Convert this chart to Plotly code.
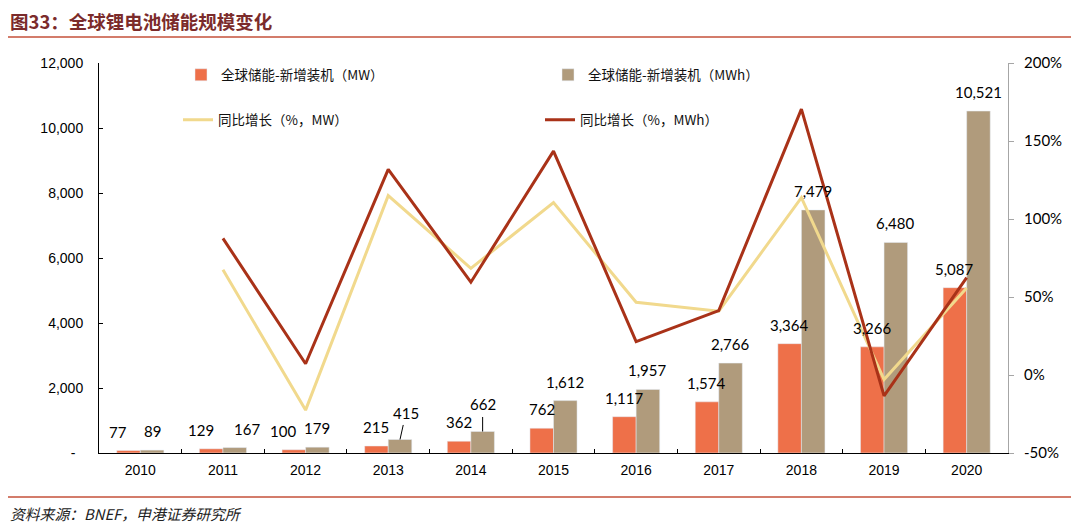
import plotly.graph_objects as go

# ---------------- data ----------------
years = ["2010", "2011", "2012", "2013", "2014", "2015", "2016", "2017", "2018", "2019", "2020"]
mw = [77, 129, 100, 215, 362, 762, 1117, 1574, 3364, 3266, 5087]
mwh = [89, 167, 179, 415, 662, 1612, 1957, 2766, 7479, 6480, 10521]
yoy_mw = [None, 67.5, -22.5, 115.0, 68.4, 110.5, 46.6, 40.9, 113.7, -2.9, 55.8]
yoy_mwh = [None, 87.6, 7.2, 131.8, 59.5, 143.5, 21.4, 41.3, 170.4, -13.4, 62.4]
left_tickvals = [0, 2000, 4000, 6000, 8000, 10000, 12000]
left_ticktext = ["-\u00a0\u00a0", "2,000", "4,000", "6,000", "8,000", "10,000", "12,000"]
right_tickvals = [-50, 0, 50, 100, 150, 200]
right_ticktext = ["-50%", "0%", "50%", "100%", "150%", "200%"]

name_mw = "全球储能-新增装机（MW）"
name_mwh = "全球储能-新增装机（MWh）"
name_yoy_mw = "同比增长（%，MW）"
name_yoy_mwh = "同比增长（%，MWh）"

# ---------------- layout constants ----------------
OFF = 8                      # page body margin
W, H = 1080 - OFF, 528 - OFF
ML, MR, MT, MB = 99 - OFF, 72, 63 - OFF, 75
PW = W - ML - MR
PH = H - MT - MB
BARGAP = 0.43
cat_px = PW / len(years)
bar_px = cat_px * (1 - BARGAP) / 2

C_MW = "#EE7049"
C_MWH = "#B09B7C"
C_LMW = "#F1D98D"
C_LMWH = "#A93218"
C_RULE = "#C4513A"
C_TITLE = "#7B2B2B"


def px_x(px):
    return (px - OFF - ML) / PW


def px_y(py):
    return (MT + PH - (py - OFF)) / PH


fig = go.Figure()
fig.add_trace(go.Bar(x=years, y=mw, name=name_mw, marker_color=C_MW,
                     legend="legend", showlegend=True))
fig.add_trace(go.Bar(x=years, y=mwh, name=name_mwh, marker_color=C_MWH,
                     legend="legend", showlegend=True))
fig.add_trace(go.Scatter(x=years, y=yoy_mw, name=name_yoy_mw, mode="lines",
                         line=dict(color=C_LMW, width=3), yaxis="y2",
                         legend="legend2"))
fig.add_trace(go.Scatter(x=years, y=yoy_mwh, name=name_yoy_mwh, mode="lines",
                         line=dict(color=C_LMWH, width=3), yaxis="y2",
                         legend="legend2"))

# ---------------- value labels ----------------
label_font = dict(family="Lato", size=15, color="#000000")
# per-label nudges (pixels): (series, index) -> (dx, dy)
nudges = {("mw", 0): (-11, 0), ("mw", 1): (-10, 0), ("mwh", 1): (12, 0),
          ("mw", 2): (-11, 0)}
arrows = {("mwh", 3): (6, -27), ("mwh", 4): (0, -27)}

annotations = []
for key, vals, side in (("mw", mw, -1), ("mwh", mwh, 1)):
    for i, v in enumerate(vals):
        xs = side * bar_px / 2
        if (key, i) in arrows:
            ax, ay = arrows[(key, i)]
            annotations.append(dict(x=i, y=v, xref="x", yref="y",
                                    text=f"{v:,}", showarrow=True, arrowhead=0,
                                    arrowwidth=1, arrowcolor="#000000",
                                    ax=ax, ay=ay, axref="pixel", ayref="pixel",
                                    xshift=xs, standoff=0, startstandoff=2,
                                    font=label_font))
        else:
            dx, dy = nudges.get((key, i), (0, 0))
            annotations.append(dict(x=i, y=v, xref="x", yref="y",
                                    text=f"{v:,}", showarrow=False,
                                    xanchor="center", yanchor="middle",
                                    xshift=xs + dx, yshift=19 + dy,
                                    font=label_font))

# title and source
annotations.append(dict(x=px_x(8), y=px_y(21), xref="paper", yref="paper",
                        text="<b>图33：全球锂电池储能规模变化</b>", showarrow=False,
                        xanchor="left", yanchor="middle",
                        font=dict(family="Noto Sans CJK SC", size=18.5, color=C_TITLE)))
annotations.append(dict(x=px_x(8), y=px_y(513.5), xref="paper", yref="paper",
                        text="<i>资料来源：BNEF，申港证券研究所</i>", showarrow=False,
                        xanchor="left", yanchor="middle",
                        font=dict(family="Noto Sans CJK SC", size=14.8, color="#222222")))

shapes = [
    dict(type="line", xref="paper", yref="paper", x0=px_x(7), x1=px_x(1071),
         y0=px_y(37), y1=px_y(37), line=dict(color=C_RULE, width=1.5)),
    dict(type="line", xref="paper", yref="paper", x0=px_x(7), x1=px_x(1071),
         y0=px_y(497), y1=px_y(497), line=dict(color=C_RULE, width=1.5)),
]

legend_common = dict(orientation="h", xanchor="left", yanchor="middle",
                     entrywidthmode="pixels",
                     bgcolor="rgba(0,0,0,0)",
                     font=dict(family="Noto Sans CJK SC", size=13.5, color="#111111"))

fig.update_layout(
    width=W, height=H, autosize=False,
    margin=dict(l=ML, r=MR, t=MT, b=MB, pad=0),
    paper_bgcolor="white", plot_bgcolor="white",
    barmode="group", bargap=BARGAP, bargroupgap=0,
    showlegend=True,
    legend=dict(x=px_x(181), y=px_y(75), entrywidth=322, **legend_common),
    legend2=dict(x=px_x(178), y=px_y(120), entrywidth=317, **legend_common),
    annotations=annotations, shapes=shapes,
    xaxis=dict(type="category", range=[-0.5, len(years) - 0.5],
               showline=True, linecolor="#000000", linewidth=1,
               ticks="inside", tickson="boundaries", ticklen=4, tickcolor="#000000",
               tickfont=dict(family="Liberation Sans", size=14, color="#000000"),
               ticklabelstandoff=4,
               showgrid=False, zeroline=False),
    yaxis=dict(range=[0, 12000], tickvals=left_tickvals, ticktext=left_ticktext,
               showline=True, linecolor="#000000", linewidth=1,
               ticks="inside", ticklen=4, tickcolor="#000000",
               tickfont=dict(family="Liberation Sans", size=14, color="#000000"),
               ticklabelstandoff=12,
               showgrid=False, zeroline=False),
    yaxis2=dict(overlaying="y", side="right", range=[-50, 200],
                tickvals=right_tickvals, ticktext=right_ticktext,
                showline=True, linecolor="#A6A6A6", linewidth=1,
                ticks="outside", ticklen=5, tickcolor="#A6A6A6",
                tickfont=dict(family="Lato", size=15, color="#000000"),
                ticklabelstandoff=7,
                showgrid=False, zeroline=False),
)

fig.write_html("out.html")
